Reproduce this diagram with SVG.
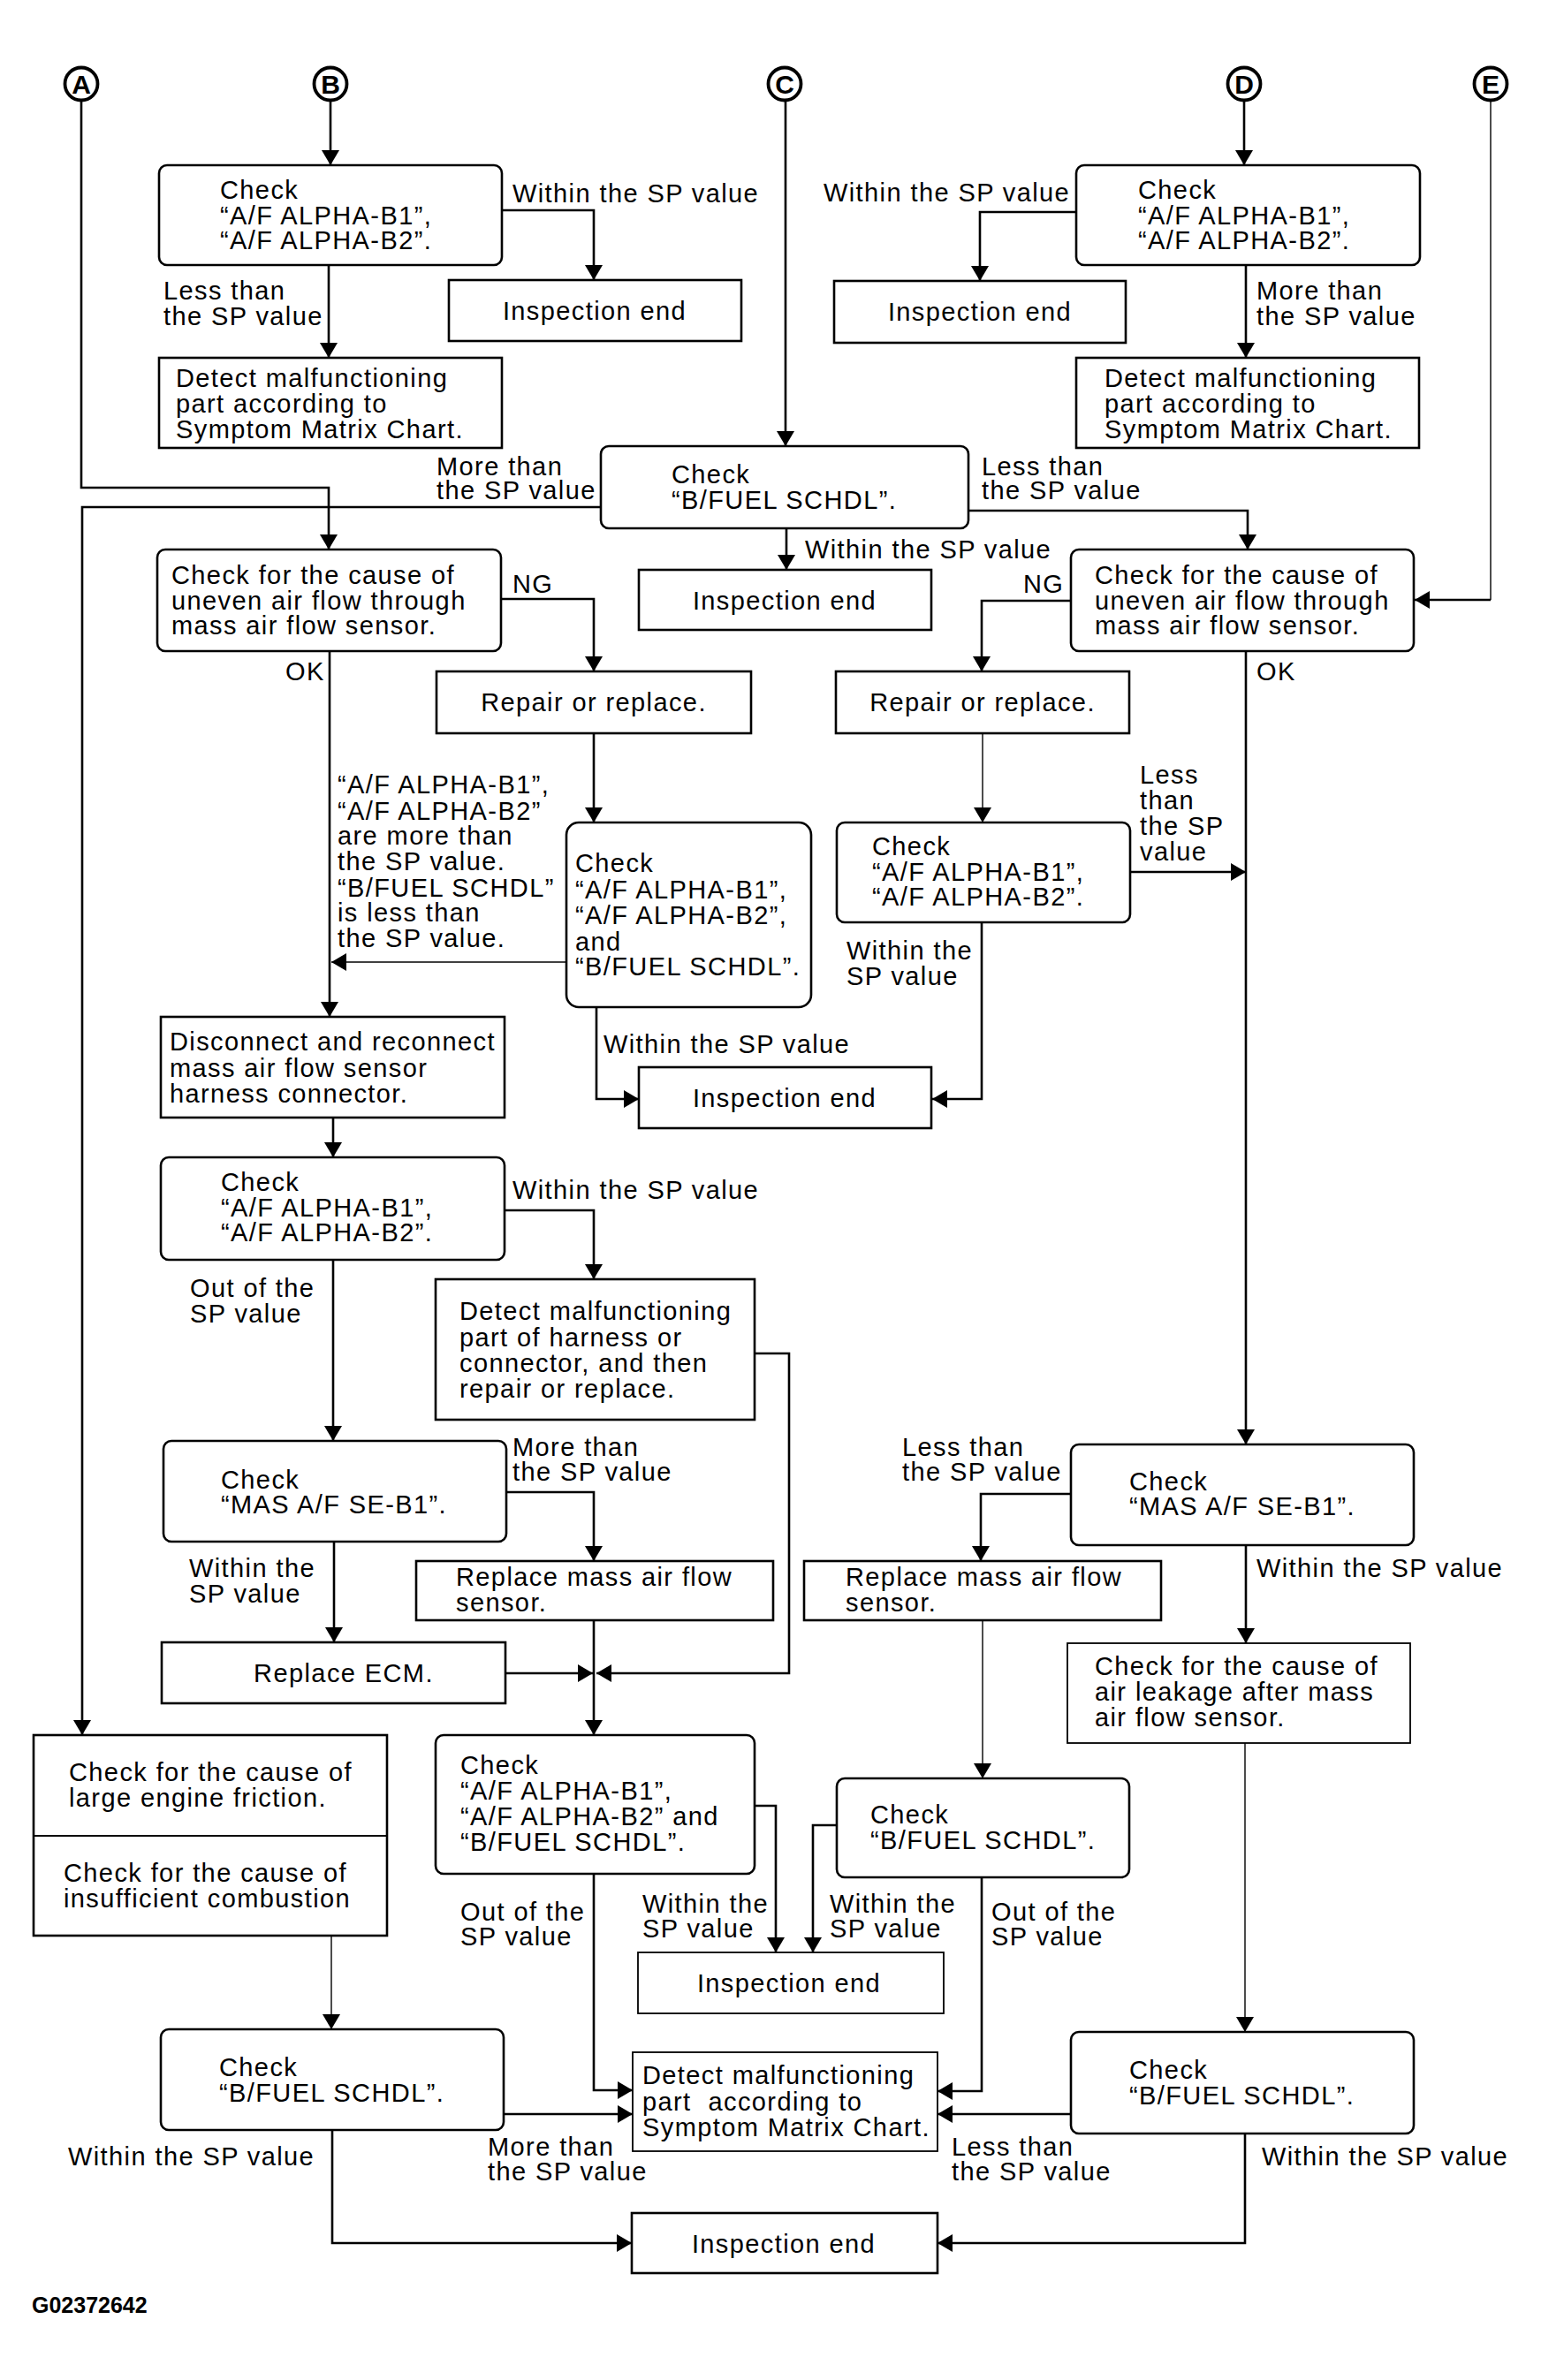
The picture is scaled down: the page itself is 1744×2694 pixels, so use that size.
<svg xmlns="http://www.w3.org/2000/svg" width="1744" height="2694" viewBox="0 0 1744 2694">
<style>
.bg{fill:#fff}
.box{fill:#fff;stroke:#000;stroke-width:2.6}
.tb{stroke-width:1.8}
.ln{fill:none;stroke:#000;stroke-width:2.6;marker-end:url(#ah)}
.nm{marker-end:none}
.thin{stroke-width:1.4}
.circ{fill:#fff;stroke:#000;stroke-width:3.8}
text{font-family:"Liberation Sans",Arial,sans-serif;font-size:29px;letter-spacing:1.4px;fill:#000}
.c{text-anchor:middle}
.lt{font-weight:bold;font-size:30px;text-anchor:middle;letter-spacing:0}
.ft{font-weight:bold;font-size:25px;letter-spacing:0}
</style>
<defs>
<marker id="ah" markerUnits="userSpaceOnUse" viewBox="0 0 17 20" refX="17" refY="10" markerWidth="17" markerHeight="20" orient="auto">
<path d="M0,0 L17,10 L0,20 z" fill="#000"/>
</marker>
</defs>
<rect class="bg" x="0" y="0" width="1744" height="2694"/>

<g id="connectors">
<path class="ln" d="M374,114 V187"/>
<path class="ln" d="M568,238 H672 V317"/>
<path class="ln" d="M372,300 V405"/>
<path class="ln" d="M1408,114 V187"/>
<path class="ln" d="M1218,240 H1109 V318"/>
<path class="ln" d="M1410,300 V405"/>
<path class="ln" d="M889,113 V505"/>
<path class="ln" d="M680,574 H93 V1964"/>
<path class="ln" d="M1096,578 H1412 V622"/>
<path class="ln" d="M890,598 V645"/>
<path class="ln" d="M92,114 V552 H372 V622"/>
<path class="ln" d="M567,678 H672 V760"/>
<path class="ln" d="M373,737 V1151"/>
<path class="ln" d="M672,830 V931"/>
<path class="ln thin" d="M641,1089 H375"/>
<path class="ln" d="M675,1140 V1244 H723"/>
<path class="ln thin nm" d="M1687,114 V679"/>
<path class="ln" d="M1687,679 H1601"/>
<path class="ln" d="M1212,680 H1111 V760"/>
<path class="ln thin" d="M1112,830 V931"/>
<path class="ln" d="M1279,987 H1410"/>
<path class="ln" d="M1410,737 V1635"/>
<path class="ln" d="M1111,1044 V1244 H1055"/>
<path class="ln" d="M377,1265 V1310"/>
<path class="ln" d="M571,1370 H672 V1448"/>
<path class="ln" d="M854,1532 H893 V1894 H675"/>
<path class="ln" d="M377,1426 V1631"/>
<path class="ln" d="M573,1689 H672 V1767"/>
<path class="ln" d="M378,1746 V1859"/>
<path class="ln" d="M572,1894 H671"/>
<path class="ln" d="M672,1834 V1964"/>
<path class="ln thin" d="M375,2191 V2297"/>
<path class="ln" d="M854,2044 H878 V2210"/>
<path class="ln" d="M672,2121 V2366 H716"/>
<path class="ln" d="M947,2066 H920 V2210"/>
<path class="ln" d="M1111,2126 V2367 H1061"/>
<path class="ln thin" d="M1112,1834 V2013"/>
<path class="ln" d="M570,2393 H716"/>
<path class="ln" d="M376,2411 V2539 H715"/>
<path class="ln" d="M1410,1749 V1860"/>
<path class="ln thin" d="M1409,1973 V2300"/>
<path class="ln" d="M1212,1691 H1110 V1767"/>
<path class="ln" d="M1212,2393 H1061"/>
<path class="ln" d="M1409,2415 V2539 H1061"/>
</g>

<g id="labels">
<text x="580" y="229">Within the SP value</text>
<text x="185" y="339">Less than</text><text x="185" y="368">the SP value</text>
<text x="932" y="228">Within the SP value</text>
<text x="1422" y="339">More than</text><text x="1422" y="368">the SP value</text>
<text x="494" y="538">More than</text><text x="494" y="565">the SP value</text>
<text x="1111" y="538">Less than</text><text x="1111" y="565">the SP value</text>
<text x="911" y="632">Within the SP value</text>
<text x="580" y="671">NG</text>
<text x="1158" y="671">NG</text>
<text x="323" y="770">OK</text>
<text x="1422" y="770">OK</text>
<text x="382" y="898">“A/F ALPHA-B1”,</text>
<text x="382" y="928">“A/F ALPHA-B2”</text>
<text x="382" y="956">are more than</text>
<text x="382" y="985">the SP value.</text>
<text x="382" y="1015">“B/FUEL SCHDL”</text>
<text x="382" y="1043">is less than</text>
<text x="382" y="1072">the SP value.</text>
<text x="1290" y="887">Less</text><text x="1290" y="916">than</text><text x="1290" y="945">the SP</text><text x="1290" y="974">value</text>
<text x="683" y="1192">Within the SP value</text>
<text x="958" y="1086">Within the</text><text x="958" y="1115">SP value</text>
<text x="580" y="1357">Within the SP value</text>
<text x="215" y="1468">Out of the</text><text x="215" y="1497">SP value</text>
<text x="580" y="1648">More than</text><text x="580" y="1676">the SP value</text>
<text x="214" y="1785">Within the</text><text x="214" y="1814">SP value</text>
<text x="1021" y="1648">Less than</text><text x="1021" y="1676">the SP value</text>
<text x="1422" y="1785">Within the SP value</text>
<text x="521" y="2174">Out of the</text><text x="521" y="2202">SP value</text>
<text x="727" y="2165">Within the</text><text x="727" y="2193">SP value</text>
<text x="939" y="2165">Within the</text><text x="939" y="2193">SP value</text>
<text x="1122" y="2174">Out of the</text><text x="1122" y="2202">SP value</text>
<text x="77" y="2451">Within the SP value</text>
<text x="552" y="2440">More than</text><text x="552" y="2468">the SP value</text>
<text x="1077" y="2440">Less than</text><text x="1077" y="2468">the SP value</text>
<text x="1428" y="2451">Within the SP value</text>
</g>

<g id="circA"><circle class="circ" cx="92" cy="95" r="18.5"/><text class="lt" x="92" y="106">A</text></g>
<g id="circB"><circle class="circ" cx="374" cy="95" r="18.5"/><text class="lt" x="374" y="106">B</text></g>
<g id="circC"><circle class="circ" cx="888" cy="95" r="18.5"/><text class="lt" x="888" y="106">C</text></g>
<g id="circD"><circle class="circ" cx="1408" cy="95" r="18.5"/><text class="lt" x="1408" y="106">D</text></g>
<g id="circE"><circle class="circ" cx="1687" cy="95" r="18.5"/><text class="lt" x="1687" y="106">E</text></g>

<g id="n1"><rect class="box" x="180" y="187" width="388" height="113" rx="9"/>
<text x="249" y="225">Check</text><text x="249" y="254">“A/F ALPHA-B1”,</text><text x="249" y="282">“A/F ALPHA-B2”.</text></g>
<g id="n2"><rect class="box" x="508" y="317" width="331" height="69"/><text class="c" x="673" y="362">Inspection end</text></g>
<g id="n3"><rect class="box" x="180" y="405" width="388" height="102"/>
<text x="199" y="438">Detect malfunctioning</text><text x="199" y="467">part according to</text><text x="199" y="496">Symptom Matrix Chart.</text></g>

<g id="n4"><rect class="box" x="1218" y="187" width="389" height="113" rx="9"/>
<text x="1288" y="225">Check</text><text x="1288" y="254">“A/F ALPHA-B1”,</text><text x="1288" y="282">“A/F ALPHA-B2”.</text></g>
<g id="n5"><rect class="box" x="944" y="318" width="330" height="70"/><text class="c" x="1109" y="363">Inspection end</text></g>
<g id="n6"><rect class="box" x="1218" y="405" width="388" height="102"/>
<text x="1250" y="438">Detect malfunctioning</text><text x="1250" y="467">part according to</text><text x="1250" y="496">Symptom Matrix Chart.</text></g>

<g id="n7"><rect class="box" x="680" y="505" width="416" height="93" rx="9"/>
<text x="760" y="547">Check</text><text x="760" y="576">“B/FUEL SCHDL”.</text></g>
<g id="n8"><rect class="box" x="723" y="645" width="331" height="68"/><text class="c" x="888" y="690">Inspection end</text></g>

<g id="n9"><rect class="box" x="178" y="622" width="389" height="115" rx="9"/>
<text x="194" y="661">Check for the cause of</text><text x="194" y="690">uneven air flow through</text><text x="194" y="718">mass air flow sensor.</text></g>
<g id="n10"><rect class="box" x="494" y="760" width="356" height="70"/><text class="c" x="672" y="805">Repair or replace.</text></g>
<g id="n11"><rect class="box" x="641" y="931" width="277" height="209" rx="14"/>
<text x="651" y="987">Check</text><text x="651" y="1017">“A/F ALPHA-B1”,</text><text x="651" y="1046">“A/F ALPHA-B2”,</text><text x="651" y="1076">and</text><text x="651" y="1104">“B/FUEL SCHDL”.</text></g>
<g id="n12"><rect class="box" x="723" y="1208" width="331" height="69"/><text class="c" x="888" y="1253">Inspection end</text></g>

<g id="n13"><rect class="box" x="1212" y="622" width="388" height="115" rx="9"/>
<text x="1239" y="661">Check for the cause of</text><text x="1239" y="690">uneven air flow through</text><text x="1239" y="718">mass air flow sensor.</text></g>
<g id="n14"><rect class="box" x="946" y="760" width="332" height="70"/><text class="c" x="1112" y="805">Repair or replace.</text></g>
<g id="n15"><rect class="box" x="947" y="931" width="332" height="113" rx="9"/>
<text x="987" y="968">Check</text><text x="987" y="997">“A/F ALPHA-B1”,</text><text x="987" y="1025">“A/F ALPHA-B2”.</text></g>

<g id="n16"><rect class="box" x="182" y="1151" width="389" height="114"/>
<text x="192" y="1189">Disconnect and reconnect</text><text x="192" y="1219">mass air flow sensor</text><text x="192" y="1248">harness connector.</text></g>
<g id="n17"><rect class="box" x="182" y="1310" width="389" height="116" rx="9"/>
<text x="250" y="1348">Check</text><text x="250" y="1377">“A/F ALPHA-B1”,</text><text x="250" y="1405">“A/F ALPHA-B2”.</text></g>
<g id="n18"><rect class="box" x="493" y="1448" width="361" height="159"/>
<text x="520" y="1494">Detect malfunctioning</text><text x="520" y="1524">part of harness or</text><text x="520" y="1553">connector, and then</text><text x="520" y="1582">repair or replace.</text></g>
<g id="n19"><rect class="box" x="185" y="1631" width="388" height="114" rx="9"/>
<text x="250" y="1685">Check</text><text x="250" y="1713">“MAS A/F SE-B1”.</text></g>
<g id="n20"><rect class="box" x="471" y="1767" width="404" height="67"/>
<text x="516" y="1795">Replace mass air flow</text><text x="516" y="1824">sensor.</text></g>
<g id="n21"><rect class="box" x="183" y="1859" width="389" height="69"/><text class="c" x="389" y="1904">Replace ECM.</text></g>

<g id="n22"><rect class="box" x="38" y="1964" width="400" height="227"/>
<line x1="38" y1="2078" x2="438" y2="2078" stroke="#000" stroke-width="2.2"/>
<text x="78" y="2016">Check for the cause of</text><text x="78" y="2045">large engine friction.</text>
<text x="72" y="2130">Check for the cause of</text><text x="72" y="2159">insufficient combustion</text></g>
<g id="n23"><rect class="box" x="493" y="1964" width="361" height="157" rx="9"/>
<text x="521" y="2008">Check</text><text x="521" y="2037">“A/F ALPHA-B1”,</text><text x="521" y="2066">“A/F ALPHA-B2” and</text><text x="521" y="2095">“B/FUEL SCHDL”.</text></g>
<g id="n24"><rect class="box tb" x="722" y="2210" width="346" height="69"/><text class="c" x="893" y="2255">Inspection end</text></g>
<g id="n25"><rect class="box" x="947" y="2013" width="331" height="112" rx="9"/>
<text x="985" y="2064">Check</text><text x="985" y="2093">“B/FUEL SCHDL”.</text></g>
<g id="n26"><rect class="box tb" x="716" y="2323" width="345" height="112"/>
<text x="727" y="2359">Detect malfunctioning</text><text x="727" y="2389" xml:space="preserve">part  according to</text><text x="727" y="2418">Symptom Matrix Chart.</text></g>
<g id="n27"><rect class="box" x="182" y="2297" width="388" height="114" rx="9"/>
<text x="248" y="2350">Check</text><text x="248" y="2379">“B/FUEL SCHDL”.</text></g>
<g id="n28"><rect class="box" x="715" y="2505" width="346" height="68"/><text class="c" x="887" y="2550">Inspection end</text></g>

<g id="n30"><rect class="box" x="1212" y="1635" width="388" height="114" rx="9"/>
<text x="1278" y="1687">Check</text><text x="1278" y="1715">“MAS A/F SE-B1”.</text></g>
<g id="n31"><rect class="box" x="910" y="1767" width="404" height="67"/>
<text x="957" y="1795">Replace mass air flow</text><text x="957" y="1824">sensor.</text></g>
<g id="n29"><rect class="box tb" x="1208" y="1860" width="388" height="113"/>
<text x="1239" y="1896">Check for the cause of</text><text x="1239" y="1925">air leakage after mass</text><text x="1239" y="1954">air flow sensor.</text></g>
<g id="n32"><rect class="box" x="1212" y="2300" width="388" height="115" rx="9"/>
<text x="1278" y="2353">Check</text><text x="1278" y="2382">“B/FUEL SCHDL”.</text></g>

<text class="ft" x="36" y="2618">G02372642</text>
</svg>
